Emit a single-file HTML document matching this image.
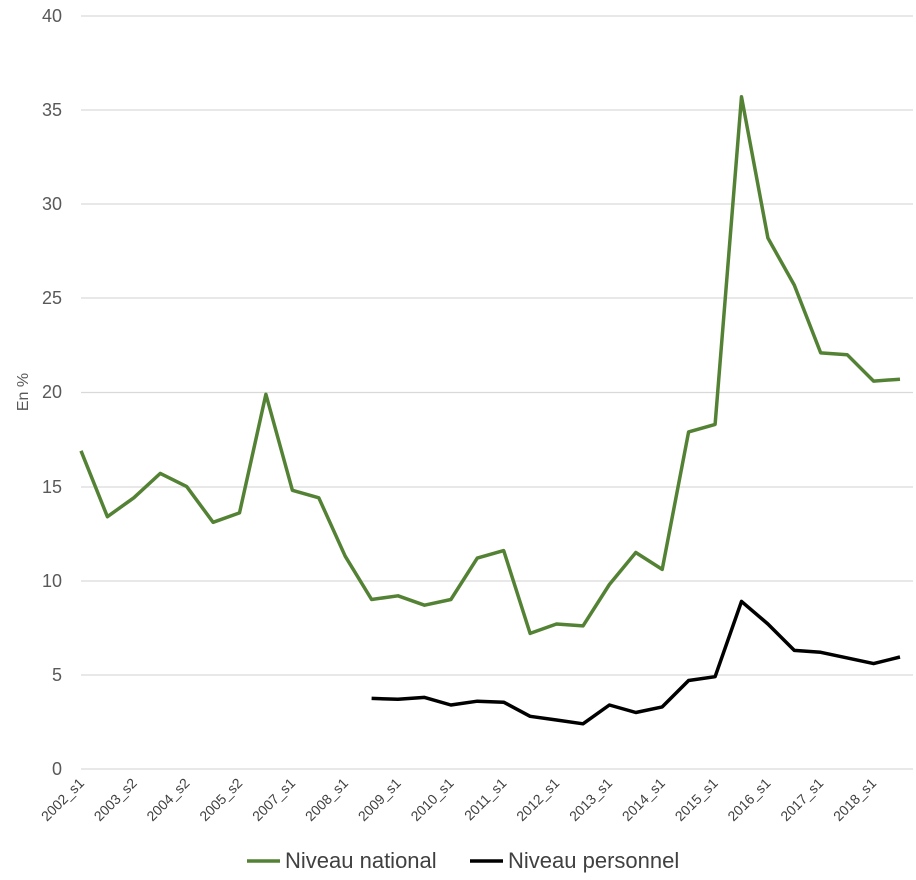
<!DOCTYPE html>
<html><head><meta charset="utf-8"><style>body{margin:0;background:#fff}svg{display:block;font-family:"Liberation Sans",sans-serif}</style></head>
<body>
<svg width="916" height="880" viewBox="0 0 916 880" xmlns="http://www.w3.org/2000/svg">
<g stroke="#d9d9d9" stroke-width="1.3">
<line x1="81" x2="913" y1="16" y2="16"/><line x1="81" x2="913" y1="110" y2="110"/><line x1="81" x2="913" y1="204" y2="204"/><line x1="81" x2="913" y1="298" y2="298"/><line x1="81" x2="913" y1="392.5" y2="392.5"/><line x1="81" x2="913" y1="487" y2="487"/><line x1="81" x2="913" y1="581" y2="581"/><line x1="81" x2="913" y1="675" y2="675"/><line x1="81" x2="913" y1="769" y2="769"/>
</g>
<g fill="#595959" font-size="18" text-anchor="end">
<text x="62" y="22">40</text><text x="62" y="116">35</text><text x="62" y="210">30</text><text x="62" y="304">25</text><text x="62" y="398">20</text><text x="62" y="493">15</text><text x="62" y="587">10</text><text x="62" y="681">5</text><text x="62" y="775">0</text>
</g>
<text transform="translate(28,392) rotate(-90)" fill="#595959" font-size="16" text-anchor="middle">En %</text>
<g fill="#404040" font-size="14" text-anchor="end">
<text transform="translate(85,784) rotate(-45)">2002_s1</text>
<text transform="translate(137.7,784) rotate(-45)">2003_s2</text>
<text transform="translate(190.5,784) rotate(-45)">2004_s2</text>
<text transform="translate(243.3,784) rotate(-45)">2005_s2</text>
<text transform="translate(296.1,784) rotate(-45)">2007_s1</text>
<text transform="translate(349,784) rotate(-45)">2008_s1</text>
<text transform="translate(401.8,784) rotate(-45)">2009_s1</text>
<text transform="translate(454.6,784) rotate(-45)">2010_s1</text>
<text transform="translate(507.4,784) rotate(-45)">2011_s1</text>
<text transform="translate(560.2,784) rotate(-45)">2012_s1</text>
<text transform="translate(613.1,784) rotate(-45)">2013_s1</text>
<text transform="translate(665.9,784) rotate(-45)">2014_s1</text>
<text transform="translate(718.7,784) rotate(-45)">2015_s1</text>
<text transform="translate(771.5,784) rotate(-45)">2016_s1</text>
<text transform="translate(824.3,784) rotate(-45)">2017_s1</text>
<text transform="translate(877.1,784) rotate(-45)">2018_s1</text>
</g>
<polyline id="g" fill="none" stroke="#548235" stroke-width="3.5" stroke-linejoin="round"/>
<polyline id="b" fill="none" stroke="#000" stroke-width="3.5" stroke-linejoin="round"/>
<line x1="247" x2="280" y1="861" y2="861" stroke="#548235" stroke-width="3.5"/>
<text x="285" y="868" font-size="22" fill="#404040">Niveau national</text>
<line x1="470" x2="503" y1="861" y2="861" stroke="#000" stroke-width="3.5"/>
<text x="508" y="868" font-size="22" fill="#404040">Niveau personnel</text>
<script>
var x0=81,dx=(900-81)/31;
function Y(v){return 769-v*18.83;}
var g=[16.9,13.4,14.4,15.7,15.0,13.1,13.6,19.9,14.8,14.4,11.3,9.0,9.2,8.7,9.0,11.2,11.6,7.2,7.7,7.6,9.8,11.5,10.6,17.9,18.3,35.7,28.2,25.7,22.1,22.0,20.6,20.7];
var b=[3.75,3.7,3.8,3.4,3.6,3.55,2.8,2.6,2.4,3.4,3.0,3.3,4.7,4.9,8.9,7.7,6.3,6.2,5.9,5.6,5.95];
document.getElementById('g').setAttribute('points',g.map((v,i)=>(x0+i*dx).toFixed(1)+','+Y(v).toFixed(1)).join(' '));
document.getElementById('b').setAttribute('points',b.map((v,i)=>(x0+(i+11)*dx).toFixed(1)+','+Y(v).toFixed(1)).join(' '));
</script>
</svg>
</body></html>
